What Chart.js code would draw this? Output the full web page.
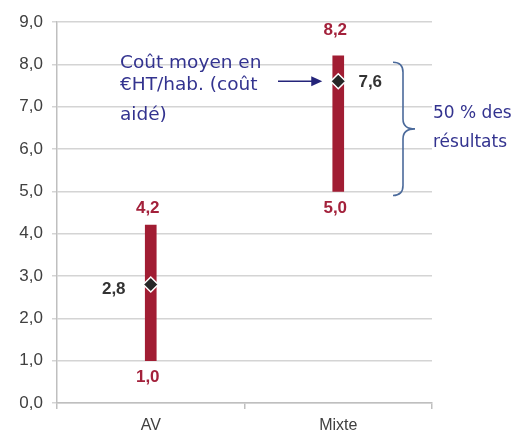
<!DOCTYPE html>
<html>
<head>
<meta charset="utf-8">
<script src="https://cdn.jsdelivr.net/npm/chart.js@4/dist/chart.umd.min.js"></script>
<style>
html,body{margin:0;padding:0;background:#fff;}
#wrap{width:515px;height:430px;position:relative;}
</style>
</head>
<body>
<div id="wrap"><canvas id="c" width="515" height="430"></canvas></div>
<script>
// ---- data ----
const categories = ['AV', 'Mixte'];
const lowValues = [1.0, 5.0];
const highValues = [4.2, 8.2];
const meanValues = [2.8, 7.6];
const yTickLabels = ['0,0','1,0','2,0','3,0','4,0','5,0','6,0','7,0','8,0','9,0'];
const noteLines = ['Coût moyen en', '€HT/hab. (coût', 'aidé)'];
const braceLines = ['50 % des', 'résultats'];

const fmt = v => v.toFixed(1).replace('.', ',');

// ---- styles ----
const barColor = '#a11d33';
const redText = '#a3213b';
const darkText = '#333333';
const blueText = '#33338f';
const braceColor = '#4b6a9b';
const arrowColor = '#24247a';
const highGap = [17, 26];
const lowGap = [17, 17];
const meanOffset = [{dx: -37, dy: 5}, {dx: 32, dy: 1}];

const labelsPlugin = {
  id: 'labelsPlugin',
  afterDatasetsDraw(chart) {
    const ctx = chart.ctx;
    const barMeta = chart.getDatasetMeta(0);
    const ptMeta = chart.getDatasetMeta(1);
    ctx.save();
    ctx.textAlign = 'center';
    ctx.textBaseline = 'middle';
    ctx.font = 'bold 17px "Liberation Sans", Arial, sans-serif';
    barMeta.data.forEach((el, i) => {
      ctx.fillStyle = redText;
      const top = Math.min(el.y, el.base), bot = Math.max(el.y, el.base);
      ctx.fillText(fmt(highValues[i]), el.x - 3, top - highGap[i]);
      ctx.fillText(fmt(lowValues[i]), el.x - 3, bot + lowGap[i]);
    });
    ptMeta.data.forEach((el, i) => {
      ctx.fillStyle = darkText;
      ctx.fillText(fmt(meanValues[i]), el.x + meanOffset[i].dx, el.y + meanOffset[i].dy);
    });
    ctx.restore();
  }
};

const annotPlugin = {
  id: 'annotPlugin',
  afterDraw(chart) {
    const ctx = chart.ctx;
    const y = chart.scales.y;
    const pts = chart.getDatasetMeta(1).data;
    const mix = pts[1];
    ctx.save();
    // note text
    ctx.font = '18.5px "DejaVu Sans", Verdana, sans-serif';
    ctx.fillStyle = blueText;
    ctx.textAlign = 'left';
    ctx.textBaseline = 'alphabetic';
    const noteBase = [68, 90, 120];
    noteLines.forEach((t, i) => ctx.fillText(t, 120, noteBase[i]));
    // arrow
    const ay = mix.y;
    const ax2 = mix.x - 16;
    ctx.strokeStyle = arrowColor;
    ctx.fillStyle = arrowColor;
    ctx.lineWidth = 1.6;
    ctx.beginPath();
    ctx.moveTo(278, ay);
    ctx.lineTo(ax2 - 8, ay);
    ctx.stroke();
    ctx.beginPath();
    ctx.moveTo(ax2, ay);
    ctx.lineTo(ax2 - 11, ay - 5);
    ctx.lineTo(ax2 - 11, ay + 5);
    ctx.closePath();
    ctx.fill();
    // brace
    const top = y.getPixelForValue(8.05);
    const bot = y.getPixelForValue(4.9);
    const mid = (top + bot) / 2;
    const x0 = 393, x1 = 403, x2 = 415;
    ctx.strokeStyle = braceColor;
    ctx.lineWidth = 1.6;
    ctx.beginPath();
    ctx.moveTo(x0, top);
    ctx.quadraticCurveTo(x1, top, x1, top + 10);
    ctx.lineTo(x1, mid - 10);
    ctx.quadraticCurveTo(x1, mid, x2, mid);
    ctx.quadraticCurveTo(x1, mid, x1, mid + 10);
    ctx.lineTo(x1, bot - 10);
    ctx.quadraticCurveTo(x1, bot, x0, bot);
    ctx.stroke();
    // brace text
    ctx.font = '17px "DejaVu Sans", Verdana, sans-serif';
    ctx.fillStyle = blueText;
    ctx.fillText(braceLines[0], 433, 118);
    ctx.fillText(braceLines[1], 433, 147);
    ctx.restore();
  }
};

new Chart(document.getElementById('c'), {
  data: {
    labels: categories,
    datasets: [
      {
        type: 'bar',
        data: categories.map((c, i) => [lowValues[i], highValues[i]]),
        backgroundColor: barColor,
        barThickness: 11,
        borderSkipped: false,
        order: 1
      },
      {
        type: 'line',
        data: meanValues,
        showLine: false,
        pointStyle: 'rectRot',
        pointRadius: 7.5,
        pointBackgroundColor: '#262626',
        pointBorderColor: '#ffffff',
        pointBorderWidth: 1.5,
        order: 0
      }
    ]
  },
  options: {
    responsive: false,
    animation: false,
    events: [],
    layout: { padding: { left: 0, top: 22, right: 83, bottom: 0 } },
    plugins: { legend: { display: false }, tooltip: { enabled: false } },
    scales: {
      x: {
        grid: { display: true, drawOnChartArea: false, drawTicks: true, tickLength: 6, color: '#bfbfbf', lineWidth: 1.5, offset: true },
        border: { display: true, color: '#bfbfbf', width: 1.5 },
        ticks: { color: '#404040', font: { family: '"Liberation Sans", Arial, sans-serif', size: 16 }, padding: 7 },
        afterFit(s) { s.height = 27; }
      },
      y: {
        min: 0, max: 9,
        grid: { color: '#d4d4d4', lineWidth: 1.5, tickLength: 5 },
        border: { display: true, color: '#bfbfbf', width: 1.5 },
        ticks: {
          stepSize: 1,
          padding: 9,
          color: '#404040',
          font: { family: '"Liberation Sans", Arial, sans-serif', size: 17 },
          callback: (v) => yTickLabels[Math.round(v)]
        },
        afterFit(s) { s.width = 57; }
      }
    }
  },
  plugins: [labelsPlugin, annotPlugin]
});
</script>
</body>
</html>
